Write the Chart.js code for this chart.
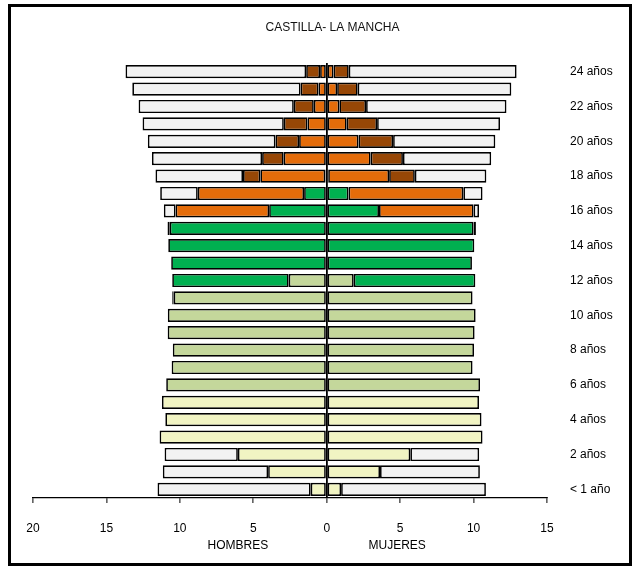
<!DOCTYPE html>
<html lang="es">
<head>
<meta charset="UTF-8" />
<title>Castilla- La Mancha</title>
<script src="https://cdn.jsdelivr.net/npm/chart.js@4"></script>
<style>
    * { margin: 0; padding: 0; box-sizing: border-box; }
    body { width: 632px; height: 567px; background: #fff; position: relative; overflow: hidden; }
    .frame {
        position: absolute; left: 8px; top: 4px; width: 624px; height: 562px;
        border: 3px solid #000;
    }
    #piramide { position: absolute; left: 0; top: 0; }
</style>
</head>
<body>
<div class="frame"></div>
<canvas id="piramide" width="632" height="567"></canvas>
<script>
// edades, de abajo (< 1 año) hacia arriba (24 años)
const edades = ["< 1 año", "1 año", "2 años", "3 años", "4 años", "5 años", "6 años", "7 años",
    "8 años", "9 años", "10 años", "11 años", "12 años", "13 años", "14 años", "15 años",
    "16 años", "17 años", "18 años", "19 años", "20 años", "21 años", "22 años", "23 años", "24 años"];

// HOMBRES (%)
const hInfantil = [1.09, 3.99, 6.05, 11.38, 10.99, 11.22, 0, 0, 0, 0, 0, 0, 0, 0, 0, 0, 0, 0, 0, 0, 0, 0, 0, 0, 0];
const hPrimaria = [0, 0, 0, 0, 0, 0, 10.93, 10.56, 10.48, 10.83, 10.82, 10.42, 2.59, 0, 0, 0, 0, 0, 0, 0, 0, 0, 0, 0, 0];
const hESO = [0, 0, 0, 0, 0, 0, 0, 0, 0, 0, 0, 0.1, 7.93, 10.59, 10.79, 10.69, 3.92, 1.54, 0.1, 0, 0, 0, 0, 0, 0];
const hBachFP = [0, 0, 0, 0, 0, 0, 0, 0, 0, 0, 0, 0, 0, 0, 0, 0.15, 6.37, 7.24, 4.42, 2.93, 1.88, 1.31, 0.88, 0.56, 0.45];
const hUniv = [0, 0, 0, 0, 0, 0, 0, 0, 0, 0, 0, 0, 0, 0, 0, 0, 0, 0, 1.18, 1.47, 1.61, 1.61, 1.36, 1.22, 0.95];
const hNoEstudia = [10.43, 7.17, 4.99, 0, 0, 0, 0, 0, 0, 0, 0, 0, 0, 0, 0, 0, 0.8, 2.56, 5.96, 7.5, 8.69, 9.62, 10.57, 11.46, 12.3];

// MUJERES (%)
const mInfantil = [0.98, 3.63, 5.69, 10.61, 10.54, 10.37, 0, 0, 0, 0, 0, 0, 0, 0, 0, 0, 0, 0, 0, 0, 0, 0, 0, 0, 0];
const mPrimaria = [0, 0, 0, 0, 0, 0, 10.44, 9.93, 10.03, 10.07, 10.14, 9.93, 1.84, 0, 0, 0, 0, 0, 0, 0, 0, 0, 0, 0, 0];
const mESO = [0, 0, 0, 0, 0, 0, 0, 0, 0, 0, 0, 0, 8.28, 9.89, 10.05, 10.0, 3.56, 1.48, 0.1, 0, 0, 0, 0, 0, 0];
const mBachFP = [0, 0, 0, 0, 0, 0, 0, 0, 0, 0, 0, 0, 0, 0, 0, 0.16, 6.44, 7.82, 4.15, 2.99, 2.16, 1.36, 0.86, 0.71, 0.46];
const mUniv = [0, 0, 0, 0, 0, 0, 0, 0, 0, 0, 0, 0, 0, 0, 0, 0, 0, 0, 1.75, 2.2, 2.36, 2.07, 1.82, 1.4, 1.04];
const mNoEstudia = [9.86, 6.8, 4.69, 0, 0, 0, 0, 0, 0, 0, 0, 0, 0, 0, 0, 0, 0.37, 1.31, 4.87, 6.01, 6.96, 8.37, 9.56, 10.46, 11.43];

const xTicks = [-20, -15, -10, -5, 0, 5, 10, 15];

const fuente = "'Liberation Sans', Arial, sans-serif";

// del centro hacia fuera
const niveles = [
    { nombre: "Infantil", h: hInfantil, m: mInfantil, color: "#F1F4C3" },
    { nombre: "Primaria", h: hPrimaria, m: mPrimaria, color: "#C4D79B" },
    { nombre: "ESO", h: hESO, m: mESO, color: "#00B050" },
    { nombre: "Bachillerato / FP", h: hBachFP, m: mBachFP, color: "#E46C0A" },
    { nombre: "Universidad", h: hUniv, m: mUniv, color: "#974706" },
    { nombre: "No estudia", h: hNoEstudia, m: mNoEstudia, color: "#F2F2F2" },
];

const datasets = [];
niveles.forEach(function (n) {
    datasets.push({
        label: n.nombre + " (hombres)",
        data: n.h.map(function (v) { return -v; }),
        backgroundColor: n.color,
    });
    datasets.push({
        label: n.nombre + " (mujeres)",
        data: n.m,
        backgroundColor: n.color,
    });
});
datasets.forEach(function (d) {
    d.stack = "total";
    d.borderColor = "#000";
    d.borderWidth = 1.7;
    d.borderSkipped = false;
    d.barPercentage = 0.76;
    d.categoryPercentage = 1;
});

// rótulos HOMBRES / MUJERES bajo el eje
const rotulosSexo = {
    id: "rotulosSexo",
    afterDraw: function (chart) {
        const c = chart.ctx;
        const x = chart.scales.x;
        c.save();
        c.font = "12px " + fuente;
        c.fillStyle = "#000";
        c.textAlign = "center";
        c.textBaseline = "middle";
        c.fillText("HOMBRES", x.getPixelForValue(-6.05), 546);
        c.fillText("MUJERES", x.getPixelForValue(4.8), 546);
        c.restore();
    },
};

new Chart(document.getElementById("piramide"), {
    type: "bar",
    data: { labels: edades, datasets: datasets },
    plugins: [rotulosSexo],
    options: {
        indexAxis: "y",
        responsive: false,
        animation: false,
        layout: { padding: { left: 33, top: 0, right: 0, bottom: 0 } },
        plugins: {
            legend: { display: false },
            tooltip: { enabled: false },
            title: {
                display: true,
                text: "CASTILLA- LA MANCHA",
                color: "#111",
                font: { size: 12, family: fuente, weight: "normal" },
                padding: { top: 20, bottom: 28.6 },
            },
        },
        scales: {
            x: {
                stacked: true,
                min: -20,
                max: 15,
                afterBuildTicks: function (scale) {
                    scale.ticks = xTicks.map(function (v) { return { value: v }; });
                },
                afterFit: function (scale) { scale.height = 69; },
                ticks: {
                    color: "#000",
                    font: { size: 12, family: fuente },
                    padding: 18,
                    callback: function (v) { return Math.abs(v); },
                },
                grid: {
                    color: function (c) { return c.tick && c.tick.value === 0 ? "#000" : "rgba(0,0,0,0)"; },
                    lineWidth: 1.8,
                    tickColor: "#000",
                    tickLength: 5,
                    tickWidth: 1,
                },
                border: { display: true, color: "#000", width: 1.2 },
            },
            y: {
                stacked: true,
                reverse: true,
                position: "right",
                afterFit: function (scale) { scale.width = 85; },
                grid: { display: false, drawTicks: false },
                border: { display: false },
                ticks: {
                    autoSkip: false,
                    color: "#000",
                    padding: 23,
                    font: { size: 12, family: fuente },
                    callback: function (v, i) { return i % 2 === 0 ? edades[i] : ""; },
                },
            },
        },
    },
});
</script>
</body>
</html>
